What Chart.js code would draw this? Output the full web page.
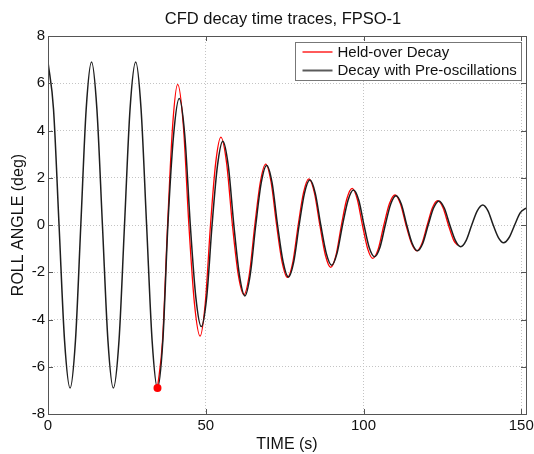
<!DOCTYPE html>
<html>
<head>
<meta charset="utf-8">
<script src="https://cdn.jsdelivr.net/npm/chart.js@4.4.0/dist/chart.umd.min.js"></script>
<style>
html, body { margin: 0; padding: 0; background: #fff; }
</style>
</head>
<body>
<canvas id="graficoDecay" width="534" height="454"></canvas>
<script>
// Decay with Pre-oscillations (black)
const blackT = [0,
  1.75, 3.5, 5.25, 7.0,
  8.7, 10.4, 12.1, 13.8,
  15.5, 17.25, 19.0, 20.7,
  22.5, 24.25, 26.0, 27.8,
  29.5, 31.25, 33.0, 34.7,
  36.4, 38.0, 39.8, 41.6,
  43.35, 45.1, 46.85, 48.6,
  50.3, 52.0, 53.7, 55.4,
  57.15, 58.9, 60.65, 62.4,
  64.1, 65.85, 67.6, 69.3,
  71.0, 72.75, 74.5, 76.2,
  77.9, 79.6, 81.3, 83.0,
  84.7, 86.45, 88.2, 89.9,
  91.6, 93.35, 95.1, 96.8,
  98.5, 100.15, 101.8, 103.5,
  105.2, 106.9, 108.6, 110.3,
  112.0, 113.7, 115.4, 117.1,
  118.8, 120.5, 122.2, 123.9,
  125.6, 127.35, 129.1, 130.8,
  132.55, 134.3, 136.05, 137.8,
  139.45, 141.1, 142.75, 144.4,
  146.15, 147.9, 149.65, 151.5];
const blackV = [6.9,
  4.9, 0, -4.9, -6.9,
  -4.9, 0, 4.9, 6.9,
  4.9, 0, -4.9, -6.9,
  -4.9, 0, 4.9, 6.9,
  4.9, 0, -4.9, -6.9,
  -4.9, 0, 3.8, 5.35,
  3.8, 0, -3.05, -4.3,
  -3.05, 0, 2.5, 3.55,
  2.5, 0, -2.1, -3.0,
  -2.1, 0, 1.8, 2.52,
  1.8, 0, -1.55, -2.2,
  -1.55, 0, 1.35, 1.9,
  1.35, 0, -1.2, -1.7,
  -1.2, 0, 1.05, 1.48,
  1.05, 0, -0.95, -1.34,
  -0.95, 0, 0.88, 1.24,
  0.88, 0, -0.77, -1.09,
  -0.77, 0, 0.72, 1.02,
  0.72, 0, -0.65, -0.92,
  -0.65, 0, 0.6, 0.85,
  0.6, 0, -0.53, -0.75,
  -0.53, 0, 0.51, 0.72];

// Held-over Decay (red)
const redT = [34.7,
  36.3, 37.9, 39.5, 41.1,
  42.9, 44.65, 46.4, 48.2,
  49.85, 51.5, 53.15, 54.8,
  56.6, 58.45, 60.3, 62.1,
  63.8, 65.55, 67.3, 69.0,
  70.7, 72.45, 74.2, 75.9,
  77.6, 79.3, 81.0, 82.7,
  84.4, 86.15, 87.9, 89.6,
  91.3, 93.0, 94.7, 96.4,
  98.0, 99.65, 101.3, 102.9,
  104.7, 106.45, 108.2, 110.0,
  111.7, 113.45, 115.2, 116.9,
  118.55, 120.2, 121.85, 123.5,
  125.2, 126.9, 128.6, 129.9];
const redV = [-6.9,
  -4.9, 0, 4.2, 5.95,
  4.2, 0, -3.3, -4.7,
  -3.3, 0, 2.63, 3.72,
  2.63, 0, -2.1, -2.95,
  -2.1, 0, 1.82, 2.58,
  1.82, 0, -1.57, -2.22,
  -1.57, 0, 1.38, 1.95,
  1.38, 0, -1.27, -1.79,
  -1.27, 0, 1.1, 1.55,
  1.1, 0, -1.0, -1.41,
  -1.0, 0, 0.9, 1.27,
  0.9, 0, -0.77, -1.09,
  -0.77, 0, 0.73, 1.03,
  0.73, 0, -0.65, -0.86];

// ponto de partida do held-over
const redDotT = [34.7];
const redDotV = [-6.9];

const xTicks = [0, 50, 100, 150];
const yTicks = [-8, -6, -4, -2, 0, 2, 4, 6, 8];

const legendLabels = ['Held-over Decay', 'Decay with Pre-oscillations'];
const titulo = 'CFD decay time traces, FPSO-1';

const FONTE = '"Liberation Sans", Arial, sans-serif';

function pares(ts, vs) {
  return ts.map((t, i) => ({ x: t, y: vs[i] }));
}

// moldura estilo matlab + titulo + legenda
const moldura = {
  id: 'moldura',
  afterDraw(chart) {
    const ctx = chart.ctx;
    const a = chart.chartArea;
    const sx = chart.scales.x, sy = chart.scales.y;
    ctx.save();

    ctx.strokeStyle = '#555';
    ctx.lineWidth = 1;
    ctx.beginPath();
    xTicks.forEach(v => {
      const px = Math.round(sx.getPixelForValue(v)) + 0.5;
      ctx.moveTo(px, a.bottom); ctx.lineTo(px, a.bottom - 5);
      ctx.moveTo(px, a.top); ctx.lineTo(px, a.top + 5);
    });
    yTicks.forEach(v => {
      const py = Math.round(sy.getPixelForValue(v)) + 0.5;
      ctx.moveTo(a.left, py); ctx.lineTo(a.left + 5, py);
      ctx.moveTo(a.right, py); ctx.lineTo(a.right - 5, py);
    });
    ctx.stroke();
    ctx.strokeRect(Math.round(a.left) + 0.5, Math.round(a.top) + 0.5,
      Math.round(a.right - a.left), Math.round(a.bottom - a.top));

    // titulo
    ctx.fillStyle = '#111';
    ctx.font = '16.5px ' + FONTE;
    ctx.textAlign = 'center';
    ctx.textBaseline = 'middle';
    ctx.fillText(titulo, (a.left + a.right) / 2 - 4, 19);

    // legenda
    const lx = Math.round(a.right) - 4.5, ly = Math.round(a.top) + 6.5;
    const lw = 226, lh = 38;
    ctx.fillStyle = '#fff';
    ctx.fillRect(lx - lw, ly, lw, lh);
    ctx.strokeStyle = '#777';
    ctx.strokeRect(lx - lw, ly, lw, lh);
    const cores = ['#ff0000', '#5a5a5a'];
    const larg = [1.3, 2];
    ctx.font = '15px ' + FONTE;
    ctx.textAlign = 'left';
    legendLabels.forEach((txt, i) => {
      const yy = ly + 9.5 + i * 18.5;
      ctx.strokeStyle = cores[i];
      ctx.lineWidth = larg[i];
      ctx.beginPath();
      ctx.moveTo(lx - lw + 7, yy);
      ctx.lineTo(lx - lw + 37, yy);
      ctx.stroke();
      ctx.fillStyle = '#111';
      ctx.fillText(txt, lx - lw + 42, yy + 0.5);
    });
    ctx.restore();
  }
};

const canvas = document.getElementById('graficoDecay');
new Chart(canvas, {
  type: 'line',
  data: {
    datasets: [
      {
        label: 'ponto',
        data: pares(redDotT, redDotV),
        showLine: false,
        pointRadius: 4,
        pointBackgroundColor: '#ff0000',
        pointBorderWidth: 0,
        order: 0
      },
      {
        label: legendLabels[1],
        data: pares(blackT, blackV),
        borderColor: '#1e1e1e',
        borderWidth: 1.5,
        pointRadius: 0,
        cubicInterpolationMode: 'monotone',
        order: 1
      },
      {
        label: legendLabels[0],
        data: pares(redT, redV),
        borderColor: '#ff0000',
        borderWidth: 1.3,
        pointRadius: 0,
        cubicInterpolationMode: 'monotone',
        order: 2
      }
    ]
  },
  options: {
    responsive: false,
    animation: false,
    devicePixelRatio: 1,
    layout: { padding: { top: 36, right: 8, left: 0, bottom: 0 } },
    plugins: { legend: { display: false }, tooltip: { enabled: false }, title: { display: false } },
    scales: {
      x: {
        type: 'linear',
        min: 0,
        max: 151.5,
        afterFit: s => { s.height = 40; s.paddingLeft = 0; s.paddingRight = 0; },
        afterBuildTicks: s => { s.ticks = xTicks.map(v => ({ value: v })); },
        ticks: { includeBounds: false, padding: 3, color: '#111', font: { family: FONTE, size: 15 }, maxRotation: 0 },
        grid: { color: '#c4c4c4', lineWidth: 1, drawTicks: false },
        border: { display: false, dash: [1, 2] },
        title: { display: true, text: 'TIME (s)', color: '#111', font: { family: FONTE, size: 16 }, padding: { top: 0, bottom: 0 } }
      },
      y: {
        min: -8,
        max: 8,
        afterFit: s => { s.width = 48; s.paddingTop = 0; s.paddingBottom = 0; },
        afterBuildTicks: s => { s.ticks = yTicks.map(v => ({ value: v })); },
        ticks: { padding: 3, color: '#111', font: { family: FONTE, size: 15 } },
        grid: { color: '#c4c4c4', lineWidth: 1, drawTicks: false },
        border: { display: false, dash: [1, 2] },
        title: { display: true, text: 'ROLL ANGLE (deg)', color: '#111', font: { family: FONTE, size: 16 }, padding: { top: 9, bottom: 0 } }
      }
    }
  },
  plugins: [moldura]
});
</script>
</body>
</html>
